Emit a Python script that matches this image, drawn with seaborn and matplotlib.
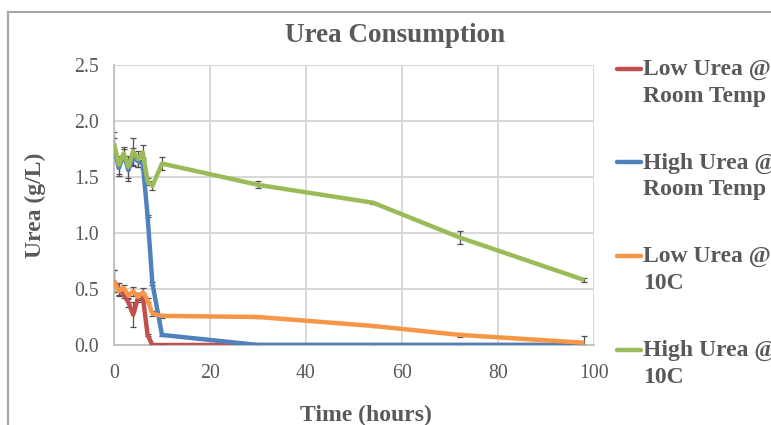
import numpy as np
import pandas as pd
import matplotlib
matplotlib.use("Agg")
import matplotlib.pyplot as plt
from matplotlib.patches import Rectangle
import seaborn as sns

# Sampling times (hours)
hours = [0, 1, 2, 3, 4, 5, 6, 7, 8, 10, 30, 54, 72, 98]

# Urea concentration (g/L) per condition
low_room = [0.57, 0.50, 0.45, 0.38, 0.27, 0.42, 0.43, 0.09, 0.00, 0.00, 0.00, 0.00, 0.00, 0.00]
high_room = [1.77, 1.58, 1.70, 1.56, 1.68, 1.64, 1.62, 1.15, 0.55, 0.09, 0.00, 0.00, 0.00, 0.00]
low_10c = [0.57, 0.48, 0.51, 0.44, 0.48, 0.43, 0.47, 0.40, 0.28, 0.26, 0.25, 0.17, 0.09, 0.02]
high_10c = [1.80, 1.61, 1.71, 1.59, 1.73, 1.66, 1.72, 1.46, 1.42, 1.62, 1.43, 1.27, 0.96, 0.58]

# Standard deviations
low_room_sd = [0.10, 0.05, 0.03, 0.04, 0.11, 0.04, 0.03, 0.01, 0.00, 0.00, 0.00, 0.00, 0.00, 0.00]
high_room_sd = [0.08, 0.07, 0.05, 0.10, 0.08, 0.05, 0.05, 0.01, 0.01, 0.01, 0.00, 0.00, 0.00, 0.00]
low_10c_sd = [0.10, 0.04, 0.03, 0.03, 0.04, 0.03, 0.04, 0.02, 0.02, 0.02, 0.01, 0.01, 0.02, 0.06]
high_10c_sd = [0.10, 0.08, 0.06, 0.10, 0.12, 0.07, 0.07, 0.03, 0.04, 0.06, 0.03, 0.01, 0.06, 0.02]

labels = ["Low Urea @\nRoom Temp", "High Urea @\nRoom Temp", "Low Urea @\n10C", "High Urea @\n10C"]
colors = ["#C0504D", "#4F81BD", "#F79646", "#9BBB59"]

series = [low_room, high_room, low_10c, high_10c]
errors = [low_room_sd, high_room_sd, low_10c_sd, high_10c_sd]

df = pd.concat(
    [pd.DataFrame({"Time": hours, "Urea": vals, "Condition": lab})
     for vals, lab in zip(series, labels)],
    ignore_index=True,
)

sns.set_theme(style="white")
plt.rcParams["font.family"] = ["Liberation Serif", "DejaVu Serif"]

fig = plt.figure(figsize=(7.71, 4.25), dpi=100)
ax = fig.add_axes([114 / 771, 1 - 345 / 425, 480 / 771, 280 / 425])

sns.lineplot(data=df, x="Time", y="Urea", hue="Condition", hue_order=labels,
             palette=colors, linewidth=3.2, ax=ax, legend=False, zorder=3,
             solid_capstyle="butt")

for vals, err in zip(series, errors):
    ax.errorbar(hours, vals, yerr=err, fmt="none", ecolor="#505050",
                elinewidth=0.9, capsize=2.2, capthick=0.9, zorder=2.5)

ax.set_xlim(0, 100)
ax.set_ylim(0, 2.5)
ax.set_xticks(np.arange(0, 101, 20))
ax.set_yticks(np.arange(0, 2.51, 0.5))
ax.set_yticklabels([f"{v:.1f}" for v in np.arange(0, 2.51, 0.5)])
ax.grid(True, color="#d4d4d4", linewidth=1.3)
ax.set_axisbelow(True)
for s in ["top", "right"]:
    ax.spines[s].set_visible(False)
for s in ["left", "bottom"]:
    ax.spines[s].set_color("#bfbfbf")
    ax.spines[s].set_linewidth(1.3)
ax.tick_params(axis="both", length=0, labelsize=14.3, labelcolor="#595959")
ax.tick_params(axis="x", pad=14)
ax.tick_params(axis="y", pad=11)

ax.set_xlabel("Time (hours)", fontsize=17, fontweight="bold", color="#595959")
ax.xaxis.set_label_coords(0.525, -0.215)
ax.set_ylabel("Urea (g/L)", fontsize=17, fontweight="bold", color="#595959")
ax.yaxis.set_label_coords(-0.142, 0.5)

fig.text(395 / 771, 1 - 35 / 425, "Urea Consumption", ha="center", va="center",
         fontsize=19.5, fontweight="bold", color="#595959")

# Legend on the right, key line beside the first line of each label
handles = [plt.Line2D([], [], color=c, linewidth=3.2) for c in colors]
leg = fig.legend(handles, labels, loc="upper left", bbox_to_anchor=(617 / 771, 1 - 59 / 425),
                 frameon=False, prop={"size": 17, "weight": "bold"}, labelcolor="#595959",
                 handlelength=1.0, handletextpad=0.1, labelspacing=1.95, borderaxespad=0,
                 borderpad=0)
for t in leg.get_texts():
    t.set_linespacing(1.35)
for h in leg.legend_handles:
    y = np.asarray(h.get_ydata(), dtype=float)
    h.set_ydata(y + 10.0)

# Chart frame
fig.add_artist(Rectangle((8 / 771, -0.5), 2, 1 - 12 / 425 + 0.5, transform=fig.transFigure,
                         fill=False, edgecolor="#a6a6a6", linewidth=1.5))

fig.savefig("out.png", dpi=100)
